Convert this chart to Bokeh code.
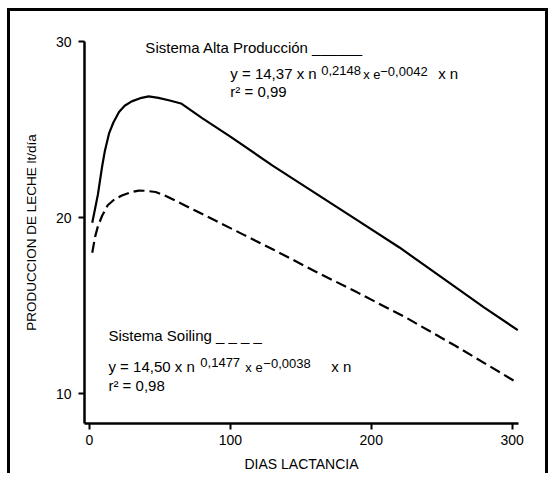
from bokeh.plotting import figure
from bokeh.models import Range1d, FixedTicker, Label
from bokeh.embed import file_html
from bokeh.resources import INLINE

FONT = "Liberation Sans"

# Values (days of lactation, milk yield l/day)
dias_alta = [2, 4, 6, 9, 11, 14, 17, 21, 25, 30, 37, 42, 49, 57, 65, 80, 100,
             130, 160, 190, 220, 250, 280, 304]
leche_alta = [19.7, 20.5, 21.3, 22.9, 23.8, 24.8, 25.4, 26.0, 26.35, 26.6, 26.8,
              26.88, 26.8, 26.65, 26.48, 25.65, 24.6, 22.95, 21.4, 19.85, 18.3,
              16.6, 14.9, 13.6]
dias_soiling = [2, 4, 6, 9, 13, 18, 23, 30, 35, 40, 47, 55, 63, 75, 90, 110, 130,
                160, 190, 225, 260, 304]
leche_soiling = [18.0, 18.9, 19.5, 20.1, 20.7, 21.05, 21.25, 21.45, 21.53, 21.52,
                 21.45, 21.2, 20.88, 20.4, 19.8, 19.0, 18.2, 16.95, 15.75, 14.3,
                 12.7, 10.6]
x_ticks = [0, 100, 200, 300]
y_ticks = [10, 20, 30]

p = figure(width=541, height=465,
           x_range=Range1d(-3.5, 304.5), y_range=Range1d(8.3, 30),
           output_backend="svg", toolbar_location=None,
           min_border_left=74, min_border_right=33,
           min_border_top=30, min_border_bottom=53)
p.styles = {"margin-left": "7px", "margin-top": "8px",
            "border-left": "3px solid black", "border-top": "3px solid black",
            "border-right": "3px solid black"}

p.outline_line_color = None
p.xgrid.visible = False
p.ygrid.visible = False
p.background_fill_color = "white"
p.border_fill_color = "white"

for ax in (p.xaxis[0], p.yaxis[0]):
    ax.axis_line_width = 2.5
    ax.axis_line_color = "black"
    ax.major_tick_line_width = 2
    ax.major_tick_line_color = "black"
    ax.major_tick_in = 0
    ax.major_tick_out = 6
    ax.minor_tick_line_color = None
    ax.major_label_text_font = FONT
    ax.major_label_text_font_size = "14px"
    ax.major_label_text_color = "black"
    ax.axis_label_text_font = FONT
    ax.axis_label_text_font_style = "normal"
    ax.axis_label_text_color = "black"

p.xaxis.ticker = FixedTicker(ticks=x_ticks)
p.yaxis.ticker = FixedTicker(ticks=y_ticks)
p.xaxis.major_label_standoff = 5
p.yaxis.major_label_standoff = 7
p.xaxis.axis_label = "DIAS LACTANCIA"
p.xaxis.axis_label_text_font_size = "14px"
p.xaxis.axis_label_standoff = 8
p.yaxis.axis_label = "PRODUCCION DE LECHE lt/día"
p.yaxis.axis_label_text_font_size = "13.5px"
p.yaxis.axis_label_standoff = 14

p.line(dias_alta, leche_alta, line_color="black", line_width=2.2)
p.line(dias_soiling, leche_soiling, line_color="black", line_width=2.2,
       line_dash="11 5")


def lab(x, y, text, size):
    p.add_layout(Label(x=x, y=y, text=text, text_font=FONT,
                       text_font_size=size, text_color="black",
                       text_font_style="normal",
                       text_baseline="alphabetic", text_align="left"))


lab(39.7, 29.66, "Sistema Alta Producción ______", "15px")
lab(100.0, 28.18, "y = 14,37 x n", "15px")
lab(164.5, 28.38, "0,2148", "13px")
lab(194.3, 28.125, "x e", "13px")
lab(206.4, 28.32, "\u22120,0042", "13px")
lab(247.5, 28.18, "x n", "15px")
lab(100.0, 27.16, "r\u00b2  = 0,99", "15px")

lab(13.5, 13.30, "Sistema Soiling _ _ _ _", "15px")
lab(13.5, 11.534, "y = 14,50 x n", "15px")
lab(78.7, 11.76, "0,1477", "13px")
lab(110.6, 11.48, "x e", "13px")
lab(123.4, 11.70, "\u22120,0038", "13px")
lab(171.6, 11.534, "x n", "15px")
lab(13.5, 10.45, "r\u00b2  = 0,98", "15px")

open("out.html", "w").write(file_html(p, INLINE))
